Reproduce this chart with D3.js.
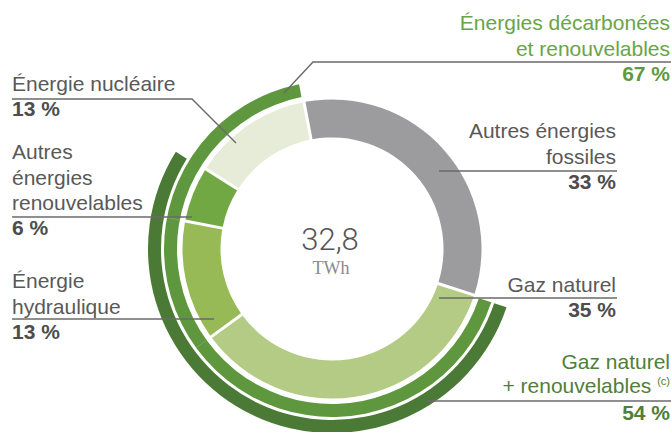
<!DOCTYPE html>
<html lang="fr">
<head>
    <meta charset="UTF-8">
    <title>donut energie</title>
    <script src="https://cdn.jsdelivr.net/npm/d3@7"></script>
    <style>
        body{
            margin: 0;
            background: #ffffff;
        }
        text{
            font-family: "Liberation Sans", Arial, sans-serif;
        }
        .lbl{
            fill: #595959;
            font-size: 21px;
        }
        .val{
            fill: #4d4d4d;
            font-size: 21px;
            font-weight: bold;
        }
        .leader{
            fill: none;
            stroke: #6a6a6a;
            stroke-width: 1.4;
        }
    </style>
</head>
<body>
<svg id="chart" width="671" height="432"></svg>

<script>
    // parts of the 32,8 TWh, clockwise from the top
    let segLabels = ["Autres énergies fossiles", "Gaz naturel", "Énergie hydraulique",
        "Autres énergies renouvelables", "Énergie nucléaire"];
    let segValues = [33, 35, 13, 6, 13];
    let segColors = ["#9c9c9e", "#b4cb85", "#98ba56", "#72a844", "#e6ecd7"];

    // the two outer groupings (start at "Gaz naturel")
    let groupLabels = ["Énergies décarbonées et renouvelables", "Gaz naturel + renouvelables"];
    let groupValues = [67, 54];
    let groupColors = ["#5e973d", "#4b7a36"];

    let totalText = "32,8";
    let unitText = "TWh";

    let svg = d3.select("#chart");
    let cx = 332, cy = 249;
    let startDeg = -10.8;

    // percent -> angle
    let angle = d3.scaleLinear()
        .domain([0, 100])
        .range([startDeg * Math.PI / 180, startDeg * Math.PI / 180 + 2 * Math.PI]);

    let g = svg.append("g").attr("transform", `translate(${cx},${cy})`);

    let pie = d3.pie().sort(null).value(d => d)
        .startAngle(angle(0)).endAngle(angle(100));

    let arc = d3.arc()
        .innerRadius(111.5)
        .outerRadius(149.5)
        .padAngle(0.03)
        .padRadius(100);

    g.selectAll("path.seg")
        .data(pie(segValues))
        .join("path")
        .attr("class", "seg")
        .attr("d", arc)
        .attr("fill", (d, i) => segColors[i]);

    // outer rings
    let ringRadii = [[155, 168], [171, 184]];
    let groupStart = segValues[0];
    groupValues.forEach(function (v, i) {
        let ringArc = d3.arc()
            .innerRadius(ringRadii[i][0])
            .outerRadius(ringRadii[i][1])
            .padAngle(0.03)
            .padRadius(100);
        g.append("path")
            .attr("d", ringArc({startAngle: angle(groupStart), endAngle: angle(groupStart + v)}))
            .attr("fill", groupColors[i]);
    });

    // faint joins on the middle ring
    let cum = segValues[0];
    [1, 2].forEach(function (i) {
        cum += segValues[i];
        let a = angle(cum);
        g.append("line")
            .attr("x1", Math.sin(a) * 155).attr("y1", -Math.cos(a) * 155)
            .attr("x2", Math.sin(a) * 168).attr("y2", -Math.cos(a) * 168)
            .attr("stroke", "#7bab5f")
            .attr("stroke-width", 0.8);
    });

    // centre
    g.append("text")
        .attr("x", -2).attr("y", 1)
        .attr("text-anchor", "middle")
        .style("font-family", "Roboto, Lato, sans-serif")
        .style("font-weight", 300)
        .style("font-size", "31px")
        .attr("fill", "#555")
        .text(totalText);
    g.append("text")
        .attr("x", -1).attr("y", 25)
        .attr("text-anchor", "middle")
        .style("font-family", "'Liberation Serif', serif")
        .style("font-size", "18px")
        .attr("fill", "#8a8a8a")
        .text(unitText);

    // leader lines
    let leaders = [
        "M12,99 H192 L236,143",
        "M12,217 H192",
        "M12,319 H214",
        "M671,62 H313 L284,93",
        "M439,171 H617",
        "M439,298 H617",
        "M426,401 H671"
    ];
    svg.selectAll("path.leader")
        .data(leaders)
        .join("path")
        .attr("class", "leader")
        .attr("d", d => d);

    function label(x, y, lines, value, anchor, color, valColor) {
        let t = svg.append("text")
            .attr("class", "lbl")
            .attr("text-anchor", anchor)
            .attr("fill", color || null)
            .style("fill", color || null);
        lines.forEach(function (l, i) {
            t.append("tspan").attr("x", x).attr("y", y + i * 25.5).text(l);
        });
        svg.append("text")
            .attr("class", "val")
            .attr("text-anchor", anchor)
            .attr("x", x)
            .attr("y", y + (lines.length - 1) * 25.5 + 25)
            .style("fill", valColor || null)
            .text(value + " %");
        return t;
    }

    label(12, 91, ["Énergie nucléaire"], segValues[4], "start");
    label(12, 159, ["Autres", "énergies", "renouvelables"], segValues[3], "start");
    label(12, 288, ["Énergie", "hydraulique"], segValues[2], "start");
    label(616, 138, ["Autres énergies", "fossiles"], segValues[0], "end");
    label(616, 292, ["Gaz naturel"], segValues[1], "end");
    label(670, 30, ["Énergies décarbonées", "et renouvelables"], groupValues[0], "end", "#69a547", "#5f9a3e");

    // last one has a superscript note
    let t = svg.append("text")
        .attr("class", "lbl")
        .attr("text-anchor", "end")
        .style("fill", "#4f8039");
    t.append("tspan").attr("x", 670).attr("y", 369).text("Gaz naturel");
    let t2 = svg.append("text")
        .attr("class", "lbl")
        .attr("text-anchor", "end")
        .attr("x", 670).attr("y", 393)
        .style("fill", "#4f8039");
    t2.append("tspan").text("+ renouvelables ");
    t2.append("tspan").attr("dy", -8).style("font-size", "11px").text("(c)");
    svg.append("text")
        .attr("class", "val")
        .attr("text-anchor", "end")
        .attr("x", 670).attr("y", 420)
        .style("fill", "#4f8039")
        .text(groupValues[1] + " %");
</script>
</body>
</html>
